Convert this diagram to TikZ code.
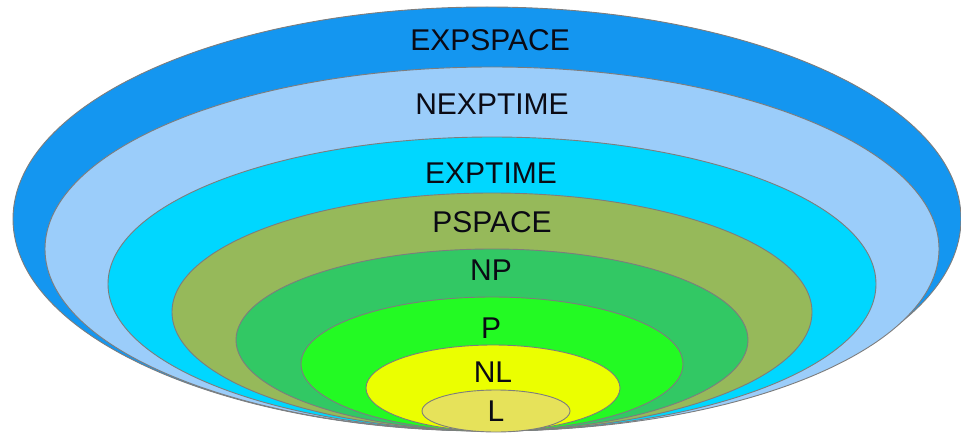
\documentclass[tikz,border=0pt]{standalone}
\usepackage{fontspec}
\setmainfont{Liberation Sans}
\usetikzlibrary{shapes.geometric}
\definecolor{cExpspace}{RGB}{20,150,240}
\definecolor{cNexptime}{RGB}{155,205,250}
\definecolor{cExptime}{RGB}{0,215,255}
\definecolor{cPspace}{RGB}{150,185,90}
\definecolor{cNP}{RGB}{50,200,100}
\definecolor{cP}{RGB}{35,250,35}
\definecolor{cNL}{RGB}{235,255,0}
\definecolor{cL}{RGB}{230,226,90}
\definecolor{cEdge}{RGB}{125,125,125}
\definecolor{cText}{RGB}{10,10,20}
\begin{document}
\begin{tikzpicture}[x=1pt,y=-1pt,
  cls/.style={ellipse,draw=cEdge,line width=0.9pt,inner sep=0pt},
  lbl/.style={text=cText,font=\fontsize{30}{36}\selectfont,inner sep=0pt,anchor=base}]
\useasboundingbox (0,0) rectangle (961,433);
\node[cls,fill=cExpspace,minimum width=948pt,minimum height=424pt] (e1) at (487,219) {};
\node[cls,fill=cNexptime,minimum width=894pt,minimum height=364pt] (e2) at (492,249) {};
\node[cls,fill=cExptime,minimum width=768pt,minimum height=294pt] (e3) at (492,284) {};
\node[cls,fill=cPspace,minimum width=640pt,minimum height=238pt] (e4) at (492,312) {};
\node[cls,fill=cNP,minimum width=512pt,minimum height=182pt] (e5) at (492,340) {};
\node[cls,fill=cP,minimum width=382pt,minimum height=134pt] (e6) at (492,364) {};
\node[cls,fill=cNL,minimum width=254pt,minimum height=86pt] (e7) at (493,388) {};
\node[cls,fill=cL,minimum width=148pt,minimum height=42pt] (e8) at (496,411) {};
\node[lbl] (t1) at (490,51) {EXPSPACE};
\node[lbl] (t2) at (492,115) {NEXPTIME};
\node[lbl] (t3) at (491,183) {EXPTIME};
\node[lbl] (t4) at (492,232) {PSPACE};
\node[lbl] (t5) at (491,280) {NP};
\node[lbl] (t6) at (491,338) {P};
\node[lbl] (t7) at (493,382) {NL};
\node[lbl] (t8) at (496,421) {L};
\end{tikzpicture}
\end{document}
